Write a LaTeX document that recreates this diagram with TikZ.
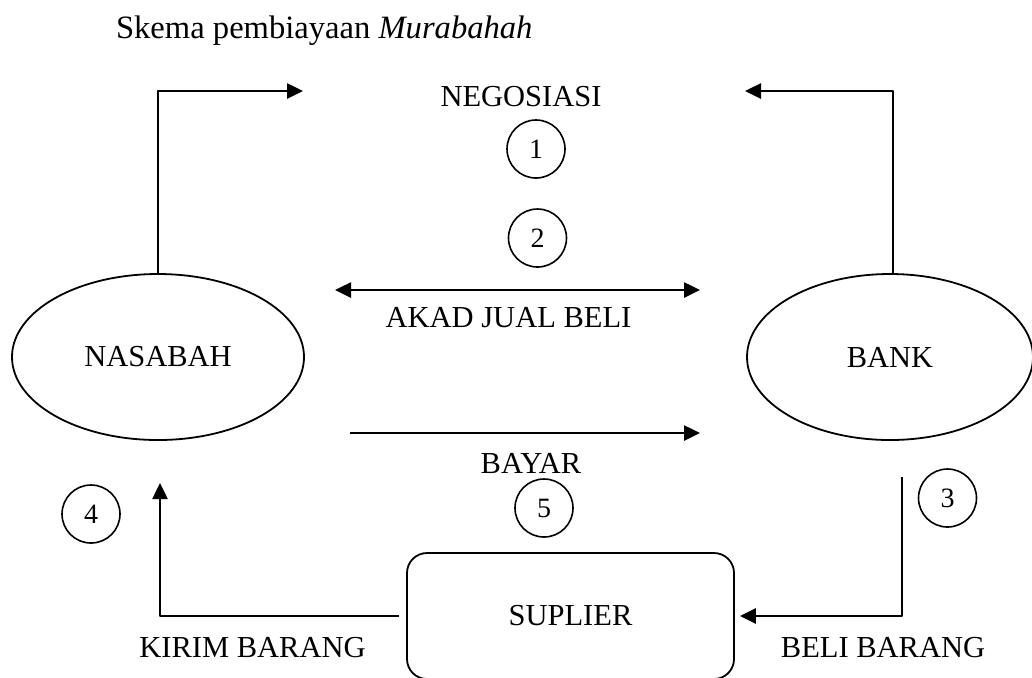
\documentclass[tikz,border=0pt]{standalone}
\usepackage{fontspec}
\setmainfont{Liberation Serif}
\usetikzlibrary{arrows.meta,shapes.geometric}

\begin{document}
\begin{tikzpicture}[x=0.5pt, y=-0.5pt, font=\fontsize{15.25}{18}\selectfont, line join=round, >={Triangle[length=8pt,width=7.5pt]},
	actor/.style={draw, ellipse, line width=0.9pt, minimum width=146pt, minimum height=83pt, inner sep=0pt},
	supbox/.style={draw, rounded corners=10pt, line width=0.9pt, minimum width=163.5pt, minimum height=63pt, inner sep=0pt},
	numcirc/.style={draw, circle, line width=0.8pt, minimum size=29pt, inner sep=0pt, font=\fontsize{14}{16}\selectfont},
	arr/.style={->, line width=1.3pt}]
	\useasboundingbox (0,0) rectangle (1032,677);
	\node[actor] (nasabah) at (158,357) {NASABAH};
	\node[actor, minimum width=143pt] (bank) at (890,357) {BANK};
	\node[supbox] (suplier) at (570.5,616) {SUPLIER};
	\path
	(303,91) coordinate (negL)
	(745,91) coordinate (negR)
	(335,290) coordinate (akadL)
	(700,290) coordinate (akadR)
	(350,433) coordinate (bayarL)
	(700,433) coordinate (bayarR)
	(902,477) coordinate (beliT)
	(160,483) coordinate (kirimT);
	\draw[arr] (nasabah.north) |- (negL);
	\draw[arr] ([xshift=1.5pt]bank.north) |- (negR);
	\draw[arr, <->] (akadL) -- (akadR);
	\draw[arr] (bayarL) -- (bayarR);
	\draw[arr, shorten >=2.5pt] (beliT) |- (suplier.east);
	\draw[arr, shorten <=3.5pt] (suplier.west) -| (kirimT);
	% teks
	\node[anchor=base west, font=\fontsize{16.3}{19}\selectfont] (judul) at (109,38) {Skema pembiayaan \textit{Murabahah}};
	\node[anchor=base] (negosiasi) at (521,106) {NEGOSIASI};
	\node[anchor=base] (akad) at (508.5,327) {AKAD JUAL BELI};
	\node[anchor=base] (bayar) at (531,473) {BAYAR};
	\node[anchor=base] (kirim) at (252.5,657) {KIRIM BARANG};
	\node[anchor=base] (beli) at (883,657) {BELI BARANG};
	\foreach \n/\x/\y in {1/536/149,2/537.5/238,3/947.5/498,4/91/514,5/544/508}\node[numcirc] (c\n) at (\x,\y) {\n};
\end{tikzpicture}
\end{document}
